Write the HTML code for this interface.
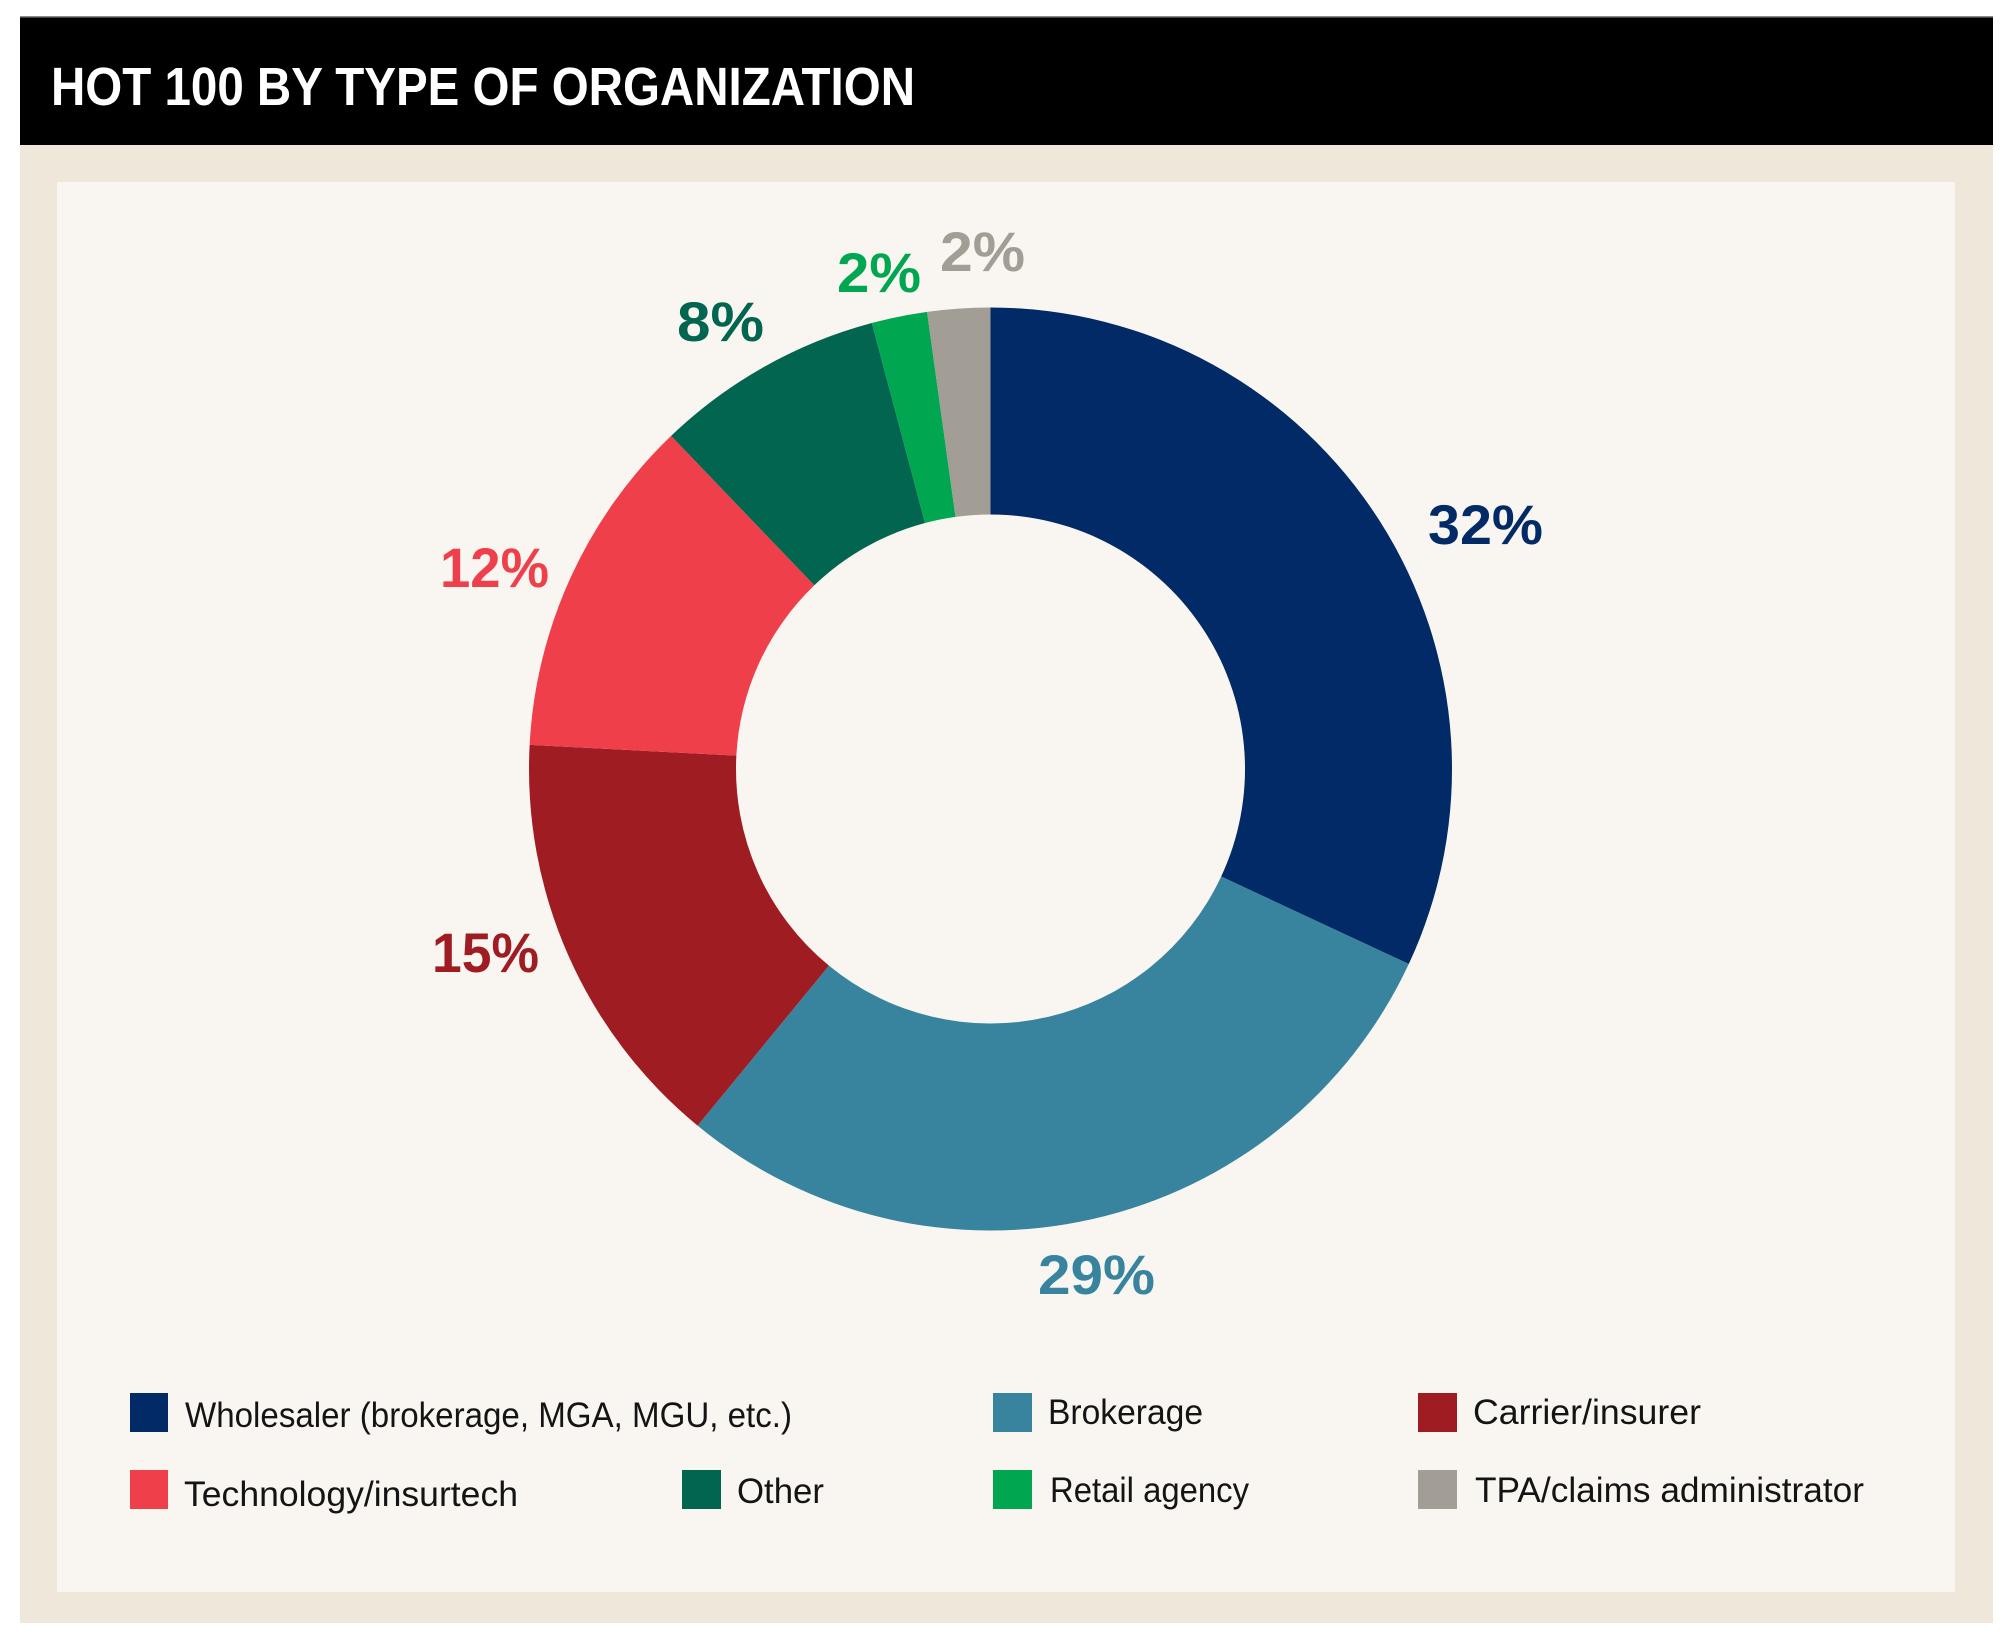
<!DOCTYPE html>
<html>
<head>
<meta charset="utf-8">
<style>
  html, body { margin:0; padding:0; background:#ffffff; }
  svg { display:block; }
</style>
</head>
<body>
<svg width="2014" height="1645" viewBox="0 0 2014 1645" xmlns="http://www.w3.org/2000/svg">
  <rect x="0" y="0" width="2014" height="1645" fill="#ffffff"/>
  <!-- header bar -->
  <rect x="20" y="17" width="1973" height="128" fill="#000000"/>
  <rect x="20" y="16" width="1973" height="1.5" fill="#8a8a8a"/>
  <text x="51" y="105" font-family="Liberation Sans, Arial, sans-serif" font-weight="bold" font-size="54" fill="#ffffff" textLength="864" lengthAdjust="spacingAndGlyphs">HOT 100 BY TYPE OF ORGANIZATION</text>
  <!-- panels -->
  <rect x="20" y="145" width="1973" height="1478" fill="#efe8da"/>
  <rect x="57" y="182" width="1898" height="1410" fill="#f9f6f1"/>

  <!-- donut -->
  <path d="M 990.5 307.5 A 461.5 461.5 0 0 1 1408.76 964.04 L 1221.16 876.56 A 254.5 254.5 0 0 0 990.5 514.5 Z" fill="#012a66"/>
  <path d="M 1408.76 964.04 A 461.5 461.5 0 0 1 697.57 1125.62 L 828.96 965.66 A 254.5 254.5 0 0 0 1221.16 876.56 Z" fill="#38839e"/>
  <path d="M 697.57 1125.62 A 461.5 461.5 0 0 1 529.63 744.85 L 736.35 755.68 A 254.5 254.5 0 0 0 828.96 965.66 Z" fill="#9e1c22"/>
  <path d="M 529.63 744.85 A 461.5 461.5 0 0 1 671.08 435.91 L 814.35 585.31 A 254.5 254.5 0 0 0 736.35 755.68 Z" fill="#ef3f4a"/>
  <path d="M 671.08 435.91 A 461.5 461.5 0 0 1 871.83 323.02 L 925.06 523.06 A 254.5 254.5 0 0 0 814.35 585.31 Z" fill="#02654f"/>
  <path d="M 871.83 323.02 A 461.5 461.5 0 0 1 927.07 311.88 L 955.52 516.92 A 254.5 254.5 0 0 0 925.06 523.06 Z" fill="#01a651"/>
  <path d="M 927.07 311.88 A 461.5 461.5 0 0 1 990.5 307.5 L 990.5 514.5 A 254.5 254.5 0 0 0 955.52 516.92 Z" fill="#a29d95"/>

  <!-- percentage labels -->
  <g font-family="Liberation Sans, Arial, sans-serif" font-weight="bold" font-size="56">
    <text x="1428" y="544" fill="#012a66" textLength="115" lengthAdjust="spacingAndGlyphs">32%</text>
    <text x="1038" y="1294" fill="#38839e" textLength="117" lengthAdjust="spacingAndGlyphs">29%</text>
    <text x="432" y="972" fill="#9e1c22" textLength="107" lengthAdjust="spacingAndGlyphs">15%</text>
    <text x="440" y="587" fill="#ef3f4a" textLength="109" lengthAdjust="spacingAndGlyphs">12%</text>
    <text x="677" y="341" fill="#02654f" textLength="87" lengthAdjust="spacingAndGlyphs">8%</text>
    <text x="837" y="292" fill="#01a651" textLength="84" lengthAdjust="spacingAndGlyphs">2%</text>
    <text x="940" y="271" fill="#a29d95" textLength="85" lengthAdjust="spacingAndGlyphs">2%</text>
  </g>

  <!-- legend -->
  <rect x="130" y="1393" width="38" height="39" fill="#012a66"/>
  <rect x="993" y="1393" width="39" height="39" fill="#38839e"/>
  <rect x="1418" y="1393" width="39" height="39" fill="#9e1c22"/>
  <rect x="130" y="1470" width="38" height="39" fill="#ef3f4a"/>
  <rect x="682" y="1470" width="39" height="39" fill="#02654f"/>
  <rect x="993" y="1470" width="39" height="39" fill="#01a651"/>
  <rect x="1418" y="1470" width="39" height="39" fill="#a29d95"/>

  <g font-family="Liberation Sans, Arial, sans-serif" font-size="35" fill="#141414">
    <text x="185" y="1427" textLength="607" lengthAdjust="spacingAndGlyphs">Wholesaler (brokerage, MGA, MGU, etc.)</text>
    <text x="1048" y="1424" textLength="155" lengthAdjust="spacingAndGlyphs">Brokerage</text>
    <text x="1473" y="1424" textLength="228" lengthAdjust="spacingAndGlyphs">Carrier/insurer</text>
    <text x="184" y="1506" textLength="334" lengthAdjust="spacingAndGlyphs">Technology/insurtech</text>
    <text x="737" y="1503" textLength="87" lengthAdjust="spacingAndGlyphs">Other</text>
    <text x="1050" y="1502" textLength="199" lengthAdjust="spacingAndGlyphs">Retail agency</text>
    <text x="1475" y="1502" textLength="389" lengthAdjust="spacingAndGlyphs">TPA/claims administrator</text>
  </g>
</svg>
</body>
</html>
